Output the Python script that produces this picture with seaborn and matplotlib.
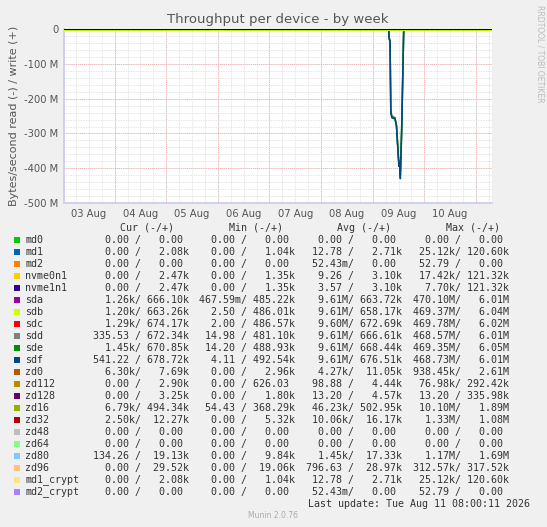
import numpy as np
import pandas as pd
import matplotlib
matplotlib.use("Agg")
import matplotlib.pyplot as plt
import seaborn as sns

# time in days since 03 Aug 00:00, read throughput in MB/s (negative = read)
spike_t = [0.02, 6.30, 6.31, 6.32, 6.335, 6.35, 6.37, 6.43, 6.46, 6.50, 6.51, 6.52, 6.535, 6.56, 6.60, 8.31]
sdf_read = [0, 0, -5, -30, -35, -240, -255, -258, -280, -380, -395, -385, -430, -300, 0, 0]
sde_read = [0, 0, -4, -28, -33, -235, -252, -256, -278, -375, -390, -380, -420, -290, 0, 0]
sdd_read = [0, 0, -3, -26, -31, -232, -250, -254, -275, -370, -385, -378, -410, -280, 0, 0]

devices = ["md0", "md1", "md2", "nvme0n1", "nvme1n1", "sda", "sdb", "sdc", "sdd", "sde", "sdf",
           "zd0", "zd112", "zd128", "zd16", "zd32", "zd48", "zd64", "zd80", "zd96", "md1_crypt", "md2_crypt"]
colors = ["#00CC00", "#0066B3", "#FF8000", "#FFCC00", "#330099", "#990099", "#CCFF00", "#FF0000",
          "#808080", "#008F00", "#00487D", "#B35A00", "#B38F00", "#6B006B", "#8FB300", "#B30000",
          "#BEBEBE", "#80FF80", "#80C9FF", "#FFC080", "#FFE680", "#AA80FF"]
cur = [("0.00", "0.00"), ("0.00", "2.08k"), ("0.00", "0.00"), ("0.00", "2.47k"), ("0.00", "2.47k"),
       ("1.26k", "666.10k"), ("1.20k", "663.26k"), ("1.29k", "674.17k"), ("335.53", "672.34k"),
       ("1.45k", "670.85k"), ("541.22", "678.72k"), ("6.30k", "7.69k"), ("0.00", "2.90k"),
       ("0.00", "3.25k"), ("6.79k", "494.34k"), ("2.50k", "12.27k"), ("0.00", "0.00"), ("0.00", "0.00"),
       ("134.26", "19.13k"), ("0.00", "29.52k"), ("0.00", "2.08k"), ("0.00", "0.00")]
mins = [("0.00", "0.00"), ("0.00", "1.04k"), ("0.00", "0.00"), ("0.00", "1.35k"), ("0.00", "1.35k"),
        ("467.59m", "485.22k"), ("2.50", "486.01k"), ("2.00", "486.57k"), ("14.98", "481.10k"),
        ("14.20", "488.93k"), ("4.11", "492.54k"), ("0.00", "2.96k"), ("0.00", "626.03"),
        ("0.00", "1.80k"), ("54.43", "368.29k"), ("0.00", "5.32k"), ("0.00", "0.00"), ("0.00", "0.00"),
        ("0.00", "9.84k"), ("0.00", "19.06k"), ("0.00", "1.04k"), ("0.00", "0.00")]
avgs = [("0.00", "0.00"), ("12.78", "2.71k"), ("52.43m", "0.00"), ("9.26", "3.10k"), ("3.57", "3.10k"),
        ("9.61M", "663.72k"), ("9.61M", "658.17k"), ("9.60M", "672.69k"), ("9.61M", "666.61k"),
        ("9.61M", "668.44k"), ("9.61M", "676.51k"), ("4.27k", "11.05k"), ("98.88", "4.44k"),
        ("13.20", "4.57k"), ("46.23k", "502.95k"), ("10.06k", "16.17k"), ("0.00", "0.00"), ("0.00", "0.00"),
        ("1.45k", "17.33k"), ("796.63", "28.97k"), ("12.78", "2.71k"), ("52.43m", "0.00")]
maxs = [("0.00", "0.00"), ("25.12k", "120.60k"), ("52.79", "0.00"), ("17.42k", "121.32k"),
        ("7.70k", "121.32k"), ("470.10M", "6.01M"), ("469.37M", "6.04M"), ("469.78M", "6.02M"),
        ("468.57M", "6.01M"), ("469.35M", "6.05M"), ("468.73M", "6.01M"), ("938.45k", "2.61M"),
        ("76.98k", "292.42k"), ("13.20", "335.98k"), ("10.10M", "1.89M"), ("1.33M", "1.08M"),
        ("0.00", "0.00"), ("0.00", "0.00"), ("1.17M", "1.69M"), ("312.57k", "317.52k"),
        ("25.12k", "120.60k"), ("52.79", "0.00")]
headers = ["Cur (-/+)", "Min (-/+)", "Avg (-/+)", "Max (-/+)"]
day_labels = ["03 Aug", "04 Aug", "05 Aug", "06 Aug", "07 Aug", "08 Aug", "09 Aug", "10 Aug"]
y_ticks = [0, -100, -200, -300, -400, -500]

sns.set_theme(style="white")
plt.rcParams["font.family"] = ["DejaVu Sans"]

W, H = 547, 527
fig = plt.figure(figsize=(W / 100, H / 100), dpi=100, facecolor="#F0F0F0")
ax = fig.add_axes([64 / W, 1 - 203 / H, 428 / W, 174 / H], facecolor="white")

df = pd.DataFrame({"t": spike_t * 3, "v": sdd_read + sde_read + sdf_read,
                   "dev": ["sdd"] * len(spike_t) + ["sde"] * len(spike_t) + ["sdf"] * len(spike_t)})
sns.lineplot(data=df, x="t", y="v", hue="dev", palette={"sdd": "#808080", "sde": "#008F00", "sdf": "#00487D"},
             linewidth=1.1, legend=False, ax=ax, estimator=None, sort=False)
ax.axhline(0, color="#CCFF00", linewidth=2.2, zorder=3)
ax.axhline(0, color="black", linewidth=0.8, zorder=4)

ax.set_xlim(0.02, 8.31)
ax.set_ylim(-500, 0.5)
# grid
for t in np.arange(0.25, 8.31, 0.25):
    ax.axvline(t, color="#DDDDDD", linestyle=(0, (1, 1)), linewidth=0.6, zorder=0)
for d in range(1, 9):
    ax.axvline(d, color="#F2B0B0", linestyle=(0, (1, 1)), linewidth=0.7, zorder=0)
for y in range(-480, 0, 20):
    ax.axhline(y, color="#DDDDDD", linestyle=(0, (1, 1)), linewidth=0.6, zorder=0)
for y in y_ticks[1:]:
    ax.axhline(y, color="#F2B0B0", linestyle=(0, (1, 1)), linewidth=0.7, zorder=0)

ax.set_xticks([i + 0.5 for i in range(len(day_labels))])
ax.set_xticklabels(day_labels)
ax.set_yticks(y_ticks)
ax.set_yticklabels(["0"] + [f"{y} M" for y in y_ticks[1:]])
ax.tick_params(axis="both", labelsize=7.2, colors="#555555", length=0, pad=4)
for s in ["top", "right"]:
    ax.spines[s].set_visible(False)
for s in ["left", "bottom"]:
    ax.spines[s].set_color("#CCCCEE")
ax.set_xlabel("")
ax.set_ylabel("Bytes/second read (-) / write (+)", fontsize=8, color="#555555")
ax.set_title("Throughput per device - by week", fontsize=9.5, color="#555555", pad=4)

fig.text(540 / W, 1 - 5 / H, "RRDTOOL / TOBI OETIKER", rotation=270, fontsize=5.5, color="#BBBBBB",
         ha="center", va="top")

mono = "DejaVu Sans Mono"
fs = 7.2
col_end = [189, 295, 402, 509]


def fmt(pair):
    a, b = pair
    a = a if a[-1].isalpha() else a + " "
    b = b if b[-1].isalpha() else b + " "
    return f"{a:>7}/{b:>8}"


for x, h in zip([174, 283, 391, 500], headers):
    fig.text(x / W, 1 - 228 / H, h, ha="right", va="center", fontsize=fs, family=mono, color="#333333")
for i, (name, c) in enumerate(zip(devices, colors)):
    y = 1 - (240 + 12 * i) / H
    fig.patches.append(plt.Rectangle((14 / W, y - 3 / H), 6 / W, 6 / H, transform=fig.transFigure,
                                     facecolor=c, edgecolor="none"))
    fig.text(25 / W, y, name, ha="left", va="center", fontsize=fs, family=mono, color="#333333")
    for xe, col in zip(col_end, [cur, mins, avgs, maxs]):
        s = fmt(col[i])
        fig.text((xe - len(s) * 6.02) / W, y, s, ha="left", va="center", fontsize=fs, family=mono,
                 color="#333333")

fig.text(530 / W, 1 - 504 / H, "Last update: Tue Aug 11 08:00:11 2026", ha="right", va="center",
         fontsize=fs, family=mono, color="#333333")
fig.text(273 / W, 1 - 516 / H, "Munin 2.0.76", ha="center", va="center", fontsize=5.5, color="#AAAAAA")

fig.savefig("out.png", dpi=100, facecolor=fig.get_facecolor())
